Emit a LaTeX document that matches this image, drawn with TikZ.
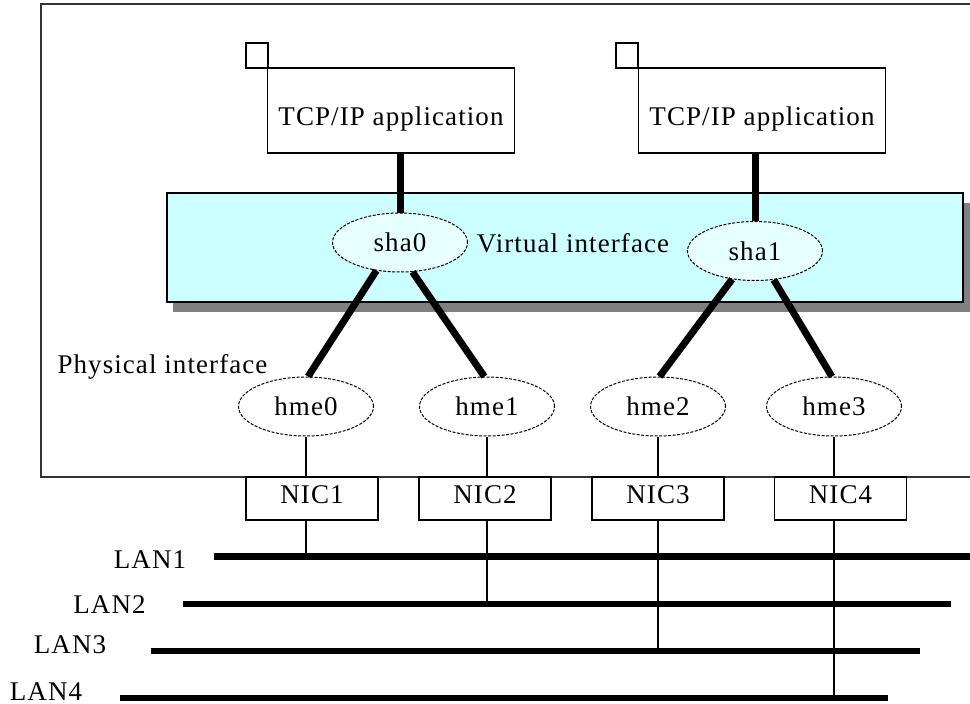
\documentclass[tikz,border=0pt]{standalone}
\usepackage{fontspec}
\setmainfont[LetterSpace=4]{Liberation Serif}
\usetikzlibrary{shapes.geometric}
\definecolor{bandcyan}{HTML}{CCFFFF}
\definecolor{ellcyan}{HTML}{E6FFFF}
\definecolor{shadowgray}{HTML}{808080}
\definecolor{framegray}{HTML}{333333}
\begin{document}
\begin{tikzpicture}[x=1pt,y=-1pt,
  every node/.style={font=\fontsize{27}{31}\selectfont},
  appbox/.style={draw=black, line width=1.2pt, minimum width=247pt, minimum height=85pt, inner sep=0pt, text height=29pt, text depth=0pt},
  tagbox/.style={draw=black, line width=1.2pt, minimum width=22pt, minimum height=25pt, inner sep=0pt},
  ifell/.style={ellipse, draw=black, dash pattern=on 3pt off 1.5pt, line width=1pt, minimum width=135pt, minimum height=59pt, inner sep=0pt},
  vif/.style={ifell, fill=ellcyan},
  pif/.style={ifell, fill=white},
  nicbox/.style={draw=black, line width=1.2pt, minimum width=132pt, minimum height=43pt, inner sep=0pt, text height=9pt, text depth=0pt},
  biglink/.style={line width=7pt},
  thinlink/.style={line width=1.2pt},
  lanline/.style={line width=6.5pt},
  lbl/.style={anchor=base, inner sep=0pt}
]
\useasboundingbox (0,0) rectangle (970,704);

% outer frame (right side cut off)
\draw[framegray, line width=1.5pt] (975,4) -- (41,4) -- (41,477) -- (975,477);

% virtual interface band with shadow
\fill[shadowgray] (173,203) rectangle (972,312);
\draw[fill=bandcyan, line width=1.2pt] (167,193) rectangle (963,302);

% applications
\node[tagbox] (tag1) at (257,55.5) {};
\node[tagbox] (tag2) at (627,55.5) {};
\node[appbox] (app1) at (391,110.5) {TCP/IP application};
\node[appbox] (app2) at (762,110.5) {TCP/IP application};

% virtual interfaces
\node[vif] (sha0) at (400,242.5) {sha0};
\node[vif] (sha1) at (755,251) {sha1};
\node[lbl] (vlabel) at (573,252) {Virtual interface};

% physical interfaces
\node[lbl] (plabel) at (162.5,373) {Physical interface};
\node[pif] (hme0) at (306,406.5) {hme0};
\node[pif] (hme1) at (487,406.5) {hme1};
\node[pif] (hme2) at (658,406.5) {hme2};
\node[pif] (hme3) at (834,406.5) {hme3};

% NICs
\node[nicbox] (nic1) at (312,498.5) {NIC1};
\node[nicbox] (nic2) at (485,498.5) {NIC2};
\node[nicbox] (nic3) at (658,498.5) {NIC3};
\node[nicbox] (nic4) at (840.5,498.5) {NIC4};

% thick links
\draw[biglink] (app1.south -| sha0.north) -- (sha0.north);
\draw[biglink] (app2.south -| sha1.north) -- (sha1.north);
\draw[biglink] (sha0.-130) -- (hme0.86);
\draw[biglink] (sha0.-67) -- (hme1.95);
\draw[biglink] (sha1.-129) -- (hme2.87);
\draw[biglink] (sha1.-57) -- (hme3.94);

% LAN lines
\node[lbl] (lan1t) at (150,568) {LAN1};
\node[lbl] (lan2t) at (109.5,613) {LAN2};
\node[lbl] (lan3t) at (70,653) {LAN3};
\node[lbl] (lan4t) at (46,700) {LAN4};
\coordinate (lan1a) at (214,556.5);
\coordinate (lan1b) at (972,556.5);
\coordinate (lan2a) at (183,604);
\coordinate (lan2b) at (951,604);
\coordinate (lan3a) at (151,651);
\coordinate (lan3b) at (920,651);
\coordinate (lan4a) at (120,698);
\coordinate (lan4b) at (888,698);
\draw[lanline] (lan1a) -- (lan1b);
\draw[lanline] (lan2a) -- (lan2b);
\draw[lanline] (lan3a) -- (lan3b);
\draw[lanline] (lan4a) -- (lan4b);

% thin links hme -> NIC -> LAN
\draw[thinlink] (hme0.south) -- (hme0.south |- nic1.north);
\draw[thinlink] (hme1.south) -- (hme1.south |- nic2.north);
\draw[thinlink] (hme2.south) -- (hme2.south |- nic3.north);
\draw[thinlink] (hme3.south) -- (hme3.south |- nic4.north);
\draw[thinlink] (hme0.south |- nic1.south) -- (hme0.south |- lan1a);
\draw[thinlink] (hme1.south |- nic2.south) -- (hme1.south |- lan2a);
\draw[thinlink] (hme2.south |- nic3.south) -- (hme2.south |- lan3a);
\draw[thinlink] (hme3.south |- nic4.south) -- (hme3.south |- lan4a);
\end{tikzpicture}
\end{document}
